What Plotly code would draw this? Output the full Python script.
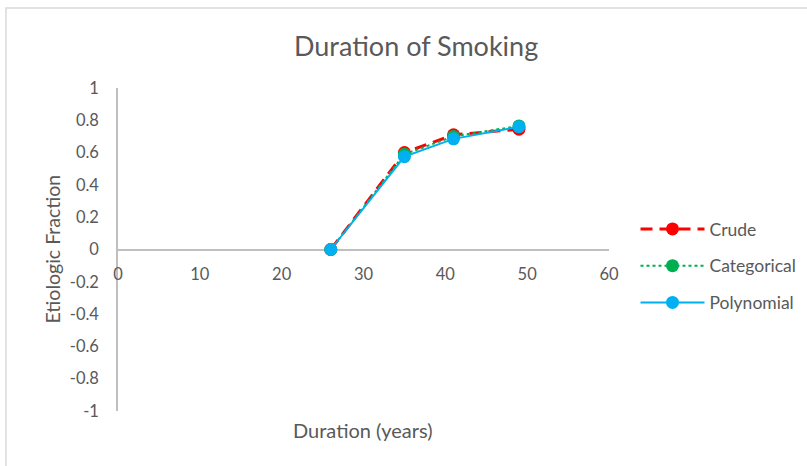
import plotly.graph_objects as go

duration = [26, 35, 41, 49]
crude = [0, 0.60, 0.71, 0.745]
categorical = [0, 0.59, 0.70, 0.765]
polynomial = [0, 0.575, 0.685, 0.76]

x_ticks = [0, 10, 20, 30, 40, 50, 60]
y_ticks = [-1, -0.8, -0.6, -0.4, -0.2, 0, 0.2, 0.4, 0.6, 0.8, 1]
y_tick_text = ["-1", "-0.8", "-0.6", "-0.4", "-0.2", "0", "0.2", "0.4", "0.6", "0.8", "1"]

FONT = "Lato, Open Sans, sans-serif"
TXT = "#595959"
AX = "#BFBFBF"

fig = go.Figure()
fig.add_trace(go.Scatter(x=duration, y=crude, name="Crude", mode="lines+markers",
                         line=dict(color="#FF0000", width=3, dash="12px,7px"),
                         marker=dict(color="#FF0000", size=13), legendgroup="a"))
fig.add_trace(go.Scatter(x=duration, y=categorical, name="Categorical", mode="lines+markers",
                         line=dict(color="#00B050", width=2, dash="dot"),
                         marker=dict(color="#00B050", size=13), legendgroup="b"))
fig.add_trace(go.Scatter(x=duration, y=polynomial, name="Polynomial", mode="lines+markers",
                         line=dict(color="#00B0F0", width=2),
                         marker=dict(color="#00B0F0", size=13), legendgroup="c"))

fig.update_layout(
    width=807, height=466,
    margin=dict(l=118, r=198, t=88, b=55, autoexpand=False),
    paper_bgcolor="white", plot_bgcolor="white",
    font=dict(family=FONT, color=TXT, size=16),
    showlegend=True,
    legend=dict(x=(635.5 - 118) / 491, y=(411 - 266) / 323, xanchor="left", yanchor="middle",
                font=dict(size=17.5, color=TXT, family=FONT),
                itemwidth=64, tracegroupgap=11, bgcolor="rgba(0,0,0,0)"),
    xaxis=dict(range=[0, 60], tickvals=x_ticks, showgrid=False, zeroline=False,
               showline=False, anchor="free", position=0.5, automargin=False,
               tickfont=dict(size=16.5, color=TXT), ticklabelstandoff=13),
    yaxis=dict(range=[-1, 1], tickvals=y_ticks, ticktext=y_tick_text, showgrid=False,
               zeroline=True, zerolinecolor=AX, zerolinewidth=1.5, automargin=False,
               showline=True, linecolor=AX, linewidth=1.5,
               tickfont=dict(size=16.5, color=TXT), ticklabelstandoff=14),
    annotations=[
        dict(text="Duration of Smoking", x=(416 - 118) / 491, y=(411 - 45) / 323,
             xref="paper", yref="paper", showarrow=False,
             font=dict(size=27, color=TXT, family=FONT), xanchor="center", yanchor="middle"),
        dict(text="Etiologic Fraction", x=(52 - 118) / 491, y=0.5, textangle=-90,
             xref="paper", yref="paper", showarrow=False,
             font=dict(size=19.5, color=TXT, family=FONT), xanchor="center", yanchor="middle"),
        dict(text="Duration (years)", x=(363 - 118) / 491, y=(411 - 430) / 323,
             xref="paper", yref="paper", showarrow=False,
             font=dict(size=20, color=TXT, family=FONT), xanchor="center", yanchor="middle"),
    ],
    shapes=[
        dict(type="rect", xref="paper", yref="paper",
             x0=(6 - 118) / 491, x1=(815 - 118) / 491,
             y0=(411 - 475) / 323, y1=(411 - 8) / 323,
             line=dict(color="#D9D9D9", width=1.5), layer="below"),
    ],
)

fig.write_html("out.html", config={"displayModeBar": False},
               post_script="document.body.style.margin='0';document.body.style.overflow='hidden';")
